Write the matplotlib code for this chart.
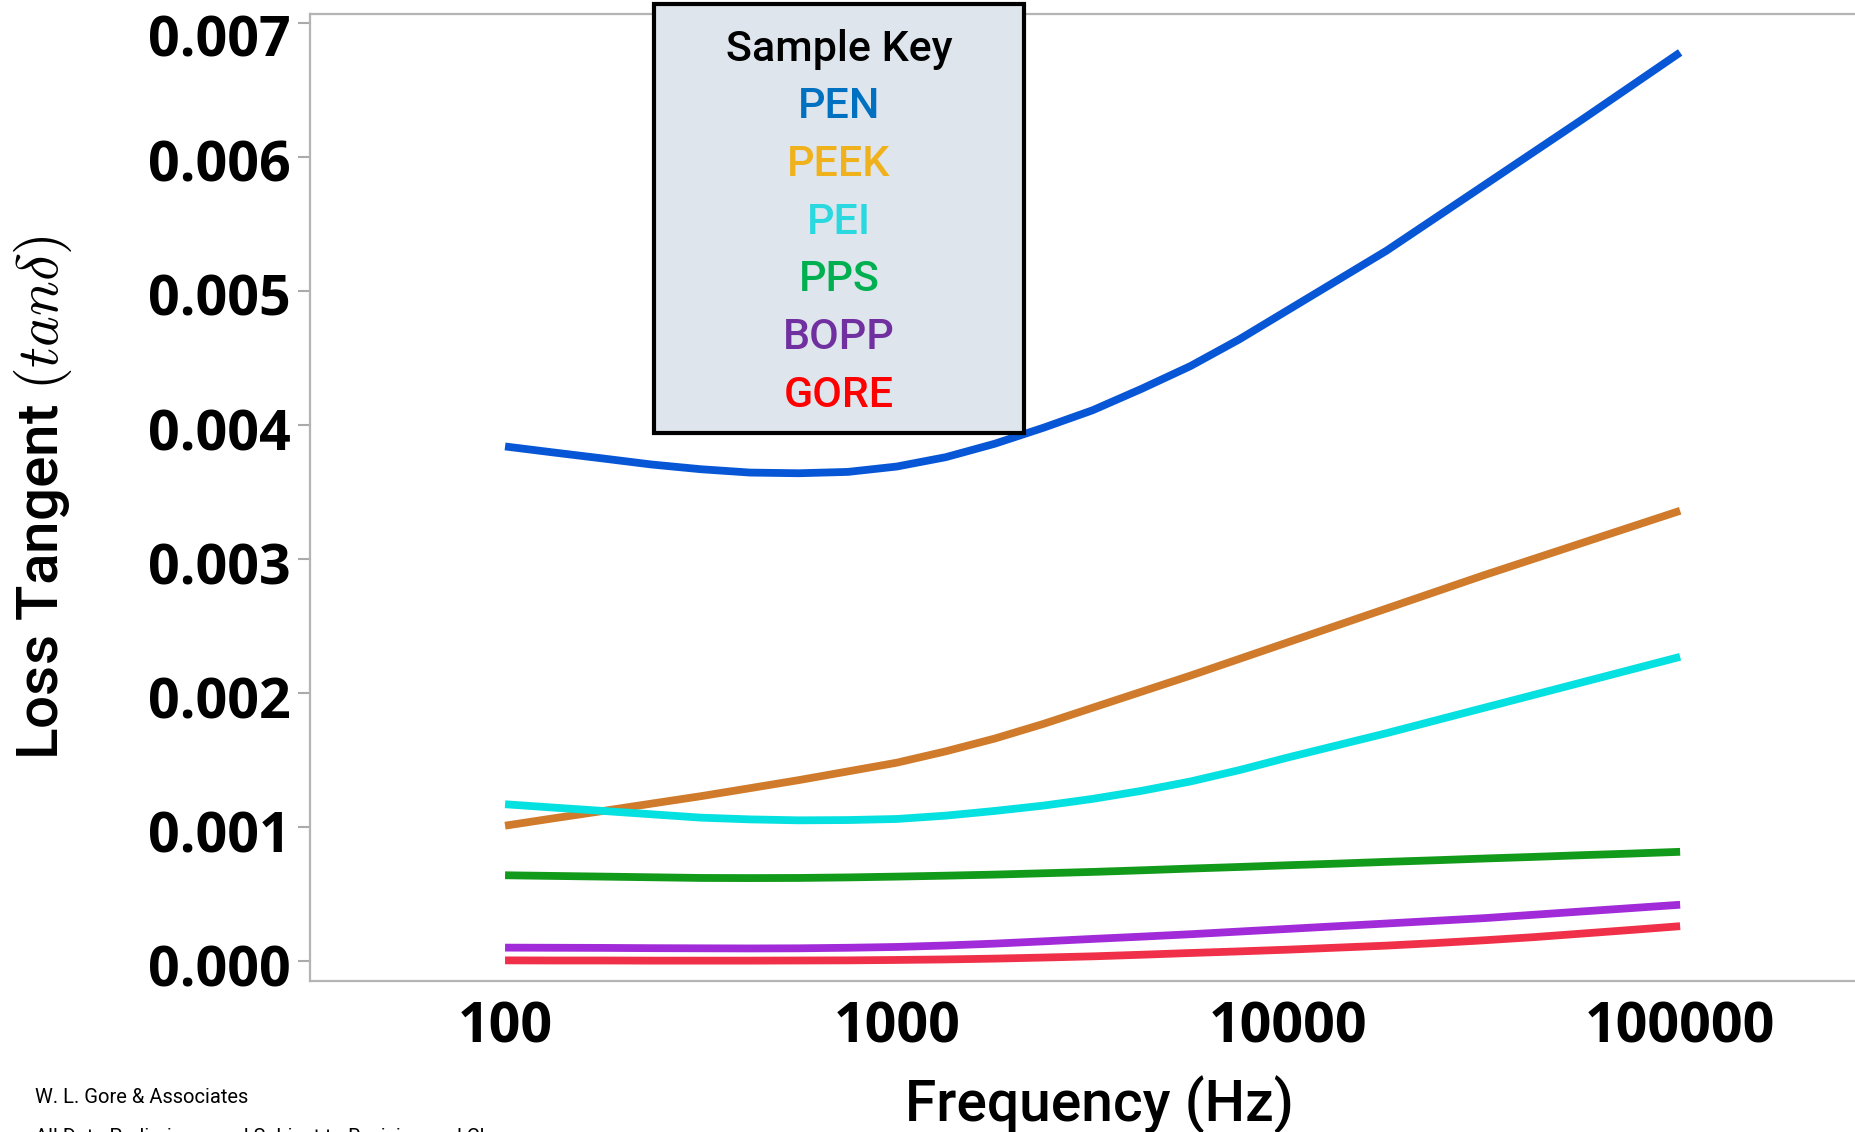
import matplotlib
matplotlib.use("Agg")
import matplotlib.pyplot as plt
from matplotlib.patches import Rectangle
from matplotlib.transforms import ScaledTranslation

# Loss tangent vs frequency, values in units of 1e-3 (eight points per decade)
freq = [100, 133, 178, 237, 316, 422, 562, 750,
        1000, 1334, 1778, 2371, 3162, 4217, 5623, 7499,
        10000, 13335, 17783, 23714, 31623, 42170, 56234, 74989, 100000]

pen = [3.84, 3.795, 3.75, 3.705, 3.67, 3.645, 3.64, 3.65,
       3.69, 3.76, 3.86, 3.98, 4.11, 4.27, 4.44, 4.64,
       4.86, 5.08, 5.30, 5.545, 5.79, 6.035, 6.28, 6.53, 6.78]
peek = [1.01, 1.065, 1.12, 1.175, 1.23, 1.29, 1.35, 1.415,
        1.48, 1.565, 1.66, 1.77, 1.89, 2.01, 2.13, 2.255,
        2.38, 2.505, 2.63, 2.755, 2.88, 3.00, 3.12, 3.24, 3.36]
pei = [1.17, 1.145, 1.12, 1.095, 1.07, 1.057, 1.05, 1.052,
       1.06, 1.085, 1.12, 1.16, 1.21, 1.27, 1.34, 1.425,
       1.52, 1.61, 1.70, 1.795, 1.89, 1.985, 2.08, 2.175, 2.27]
pps = [0.640, 0.635, 0.630, 0.625, 0.620, 0.619, 0.620, 0.624,
       0.630, 0.637, 0.645, 0.655, 0.665, 0.677, 0.690, 0.702,
       0.715, 0.727, 0.740, 0.752, 0.765, 0.777, 0.790, 0.802, 0.815]
bopp = [0.100, 0.099, 0.098, 0.096, 0.095, 0.094, 0.095, 0.099,
        0.105, 0.116, 0.130, 0.147, 0.165, 0.182, 0.200, 0.220,
        0.240, 0.260, 0.280, 0.300, 0.320, 0.345, 0.370, 0.395, 0.420]
gore = [0.005, 0.004, 0.004, 0.003, 0.003, 0.003, 0.004, 0.005,
        0.008, 0.012, 0.018, 0.026, 0.035, 0.047, 0.060, 0.072,
        0.085, 0.100, 0.115, 0.134, 0.155, 0.178, 0.205, 0.232, 0.260]

samples = ["PEN", "PEEK", "PEI", "PPS", "BOPP", "GORE"]
series = [pen, peek, pei, pps, bopp, gore]
line_colors = ["#0756d6", "#cf7b2b", "#05e0e0", "#129a1a", "#a12bd8", "#f03048"]
key_colors = ["#0070c0", "#f0b21c", "#2ad8e0", "#00b050", "#7030a0", "#ff0000"]

y_ticks = [0.000, 0.001, 0.002, 0.003, 0.004, 0.005, 0.006, 0.007]
x_ticks = [100, 1000, 10000, 100000]

plt.rcParams["mathtext.fontset"] = "cm"

W, H = 1856, 1132
fig = plt.figure(figsize=(W / 100, H / 100), dpi=100)
ax = fig.add_axes([310 / W, 1 - 981 / H, 1 - 310 / W, (981 - 14) / H])

for vals, c in zip(series, line_colors):
    ax.plot(freq, [v * 1e-3 for v in vals], color=c, lw=5.6, solid_capstyle="butt")

ax.set_xscale("log")
ax.set_xlim(10 ** 1.502, 10 ** 5.449)
ax.set_ylim(-0.000149, 0.007067)
ax.minorticks_off()

ax.set_xticks(x_ticks, labels=[str(t) for t in x_ticks])
ax.set_yticks(y_ticks, labels=["%.3f" % t for t in y_ticks])
tick_font = dict(family="Open Sans", weight="bold", size=40)
for lab in ax.get_xticklabels() + ax.get_yticklabels():
    lab.set(**tick_font)
ax.tick_params(axis="x", length=0, pad=14)
ax.tick_params(axis="y", length=9, width=1.5, color="#aaaaaa", pad=5)

# y labels sit a little below their ticks, the top one further down
for lab, t in zip(ax.get_yticklabels(), y_ticks):
    dy = 13 if t == y_ticks[-1] else 4
    lab.set_transform(lab.get_transform() + ScaledTranslation(0, -dy / 100, fig.dpi_scale_trans))

for side in ["left", "bottom", "top"]:
    ax.spines[side].set_color("#b4b4b4")
    ax.spines[side].set_linewidth(1.6)
ax.spines["right"].set_visible(False)

ax.set_xlabel("Frequency (Hz)", family="Roboto", weight="medium", size=41)
ax.xaxis.set_label_coords((1099 - 310) / (W - 310), -(1121 - 981) / (981 - 14))
ax.xaxis.label.set_va("baseline")
ax.set_ylabel(r"Loss Tangent $(tan\delta)$", family="Roboto", weight="medium", size=42)
ax.yaxis.set_label_coords(-(310 - 74) / (W - 310), 0.5)

# sample key box
box = Rectangle((654 / W, 1 - 433 / H), 370 / W, 429 / H, transform=fig.transFigure,
                facecolor="#dfe5ec", edgecolor="black", lw=3, zorder=5)
fig.patches.append(box)
key_x = 839 / W
key_font = dict(family="Roboto", weight="medium", size=31, ha="center", va="baseline", zorder=6)
fig.text(key_x, 1 - 61 / H, "Sample Key", color="black", **key_font)
for i, (name, c) in enumerate(zip(samples, key_colors)):
    fig.text(key_x, 1 - (118 + i * 57.8) / H, name, color=c, **key_font)

fig.text(35 / W, 1 - 1103 / H, "W. L. Gore & Associates", family="Roboto", size=14.5, va="baseline")
fig.text(35 / W, 1 - 1143 / H, "All Data Preliminary and Subject to Revision and Change",
         family="Roboto", size=14.5, va="baseline")

fig.savefig("out.png", dpi=100)
